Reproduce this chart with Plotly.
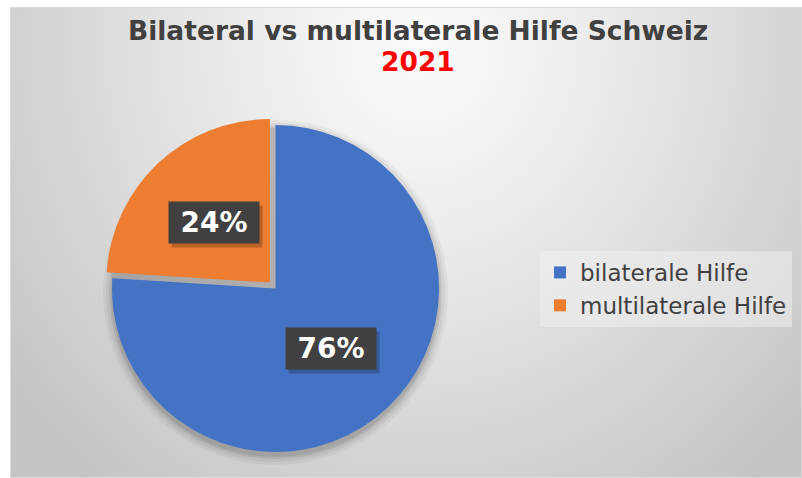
import base64
import numpy as np
import plotly.graph_objects as go

# ---- data ----
labels = ["bilaterale Hilfe", "multilaterale Hilfe"]
values = [76, 24]
colors = ["#4472C4", "#ED7D31"]
pulls = [0, 0.05]
title_line1 = "Bilateral vs multilaterale Hilfe Schweiz"
title_line2 = "2021"

W, H = 802, 478

# ---- geometry (pixels) ----
cx_px, cy_px, r_px = 275.5, 288.5, 163.5
half = r_px * (1 + max(pulls))
dom_x = [(cx_px - half) / W, (cx_px + half) / W]
dom_y = [(H - cy_px - half) / H, (H - cy_px + half) / H]

# ---- background gradient as SVG image ----
bx, by, bw, bh = 10, 7, 792, 471
svg = (
    f'<svg xmlns="http://www.w3.org/2000/svg" width="{bw}" height="{bh}">'
    '<defs><radialGradient id="g" gradientUnits="userSpaceOnUse" cx="410" cy="40" r="560" '
    'gradientTransform="translate(410 40) scale(0.93 1) translate(-410 -40)">'
    '<stop offset="0" stop-color="#fbfbfb"/><stop offset="0.35" stop-color="#ebebeb"/>'
    '<stop offset="1" stop-color="#c4c4c4"/></radialGradient></defs>'
    f'<rect width="{bw}" height="{bh}" fill="url(#g)"/>'
    f'<rect x="0.5" y="0.5" width="{bw-1}" height="{bh-1}" fill="none" stroke="#dcdcdc"/>'
    '</svg>'
)
src = "data:image/svg+xml;base64," + base64.b64encode(svg.encode()).decode()

fig = go.Figure()
fig.add_trace(go.Pie(
    labels=labels, values=values, sort=False, direction="clockwise", rotation=0,
    marker=dict(colors=colors, line=dict(width=0)), pull=pulls,
    textinfo="none", hoverinfo="label+percent", domain=dict(x=dom_x, y=dom_y),
))

# soft shadow under the pie
shapes = []
for dr, op in [(9, 0.04), (6, 0.05), (3, 0.07), (1, 0.08)]:
    x0, x1 = (cx_px - r_px - dr) / W, (cx_px + r_px + dr) / W
    y0 = 1 - (cy_px + 4 + r_px + dr) / H
    y1 = 1 - (cy_px + 4 - r_px - dr) / H
    shapes.append(dict(type="circle", xref="paper", yref="paper", x0=x0, x1=x1, y0=y0, y1=y1,
                       fillcolor=f"rgba(0,0,0,{op})", line=dict(width=0), layer="below"))

# data labels, placed along each slice bisector
annotations = []
vals = np.array(values, dtype=float)
fr = vals / vals.sum()
start = np.concatenate([[0], np.cumsum(fr)[:-1]])
for f, s, p in zip(fr, start, pulls):
    th = np.deg2rad((s + f / 2) * 360)
    d = (p + 0.5) * r_px
    lx = cx_px + d * np.sin(th)
    ly = cy_px - d * np.cos(th)
    txt = f"<b>{round(100 * f)}%</b>"
    common = dict(x=lx / W, y=1 - ly / H, xref="paper", yref="paper", showarrow=False,
                  width=90, height=41, borderpad=0, xanchor="center", yanchor="middle")
    annotations.append(dict(**common, text=" ", bgcolor="rgba(0,0,0,0.22)", xshift=3, yshift=-4))
    annotations.append(dict(**common, text=txt, bgcolor="#404040",
                            font=dict(family="DejaVu Sans", size=28, color="white")))

annotations.append(dict(x=418.5 / W, y=1 - 31 / H, xref="paper", yref="paper", showarrow=False,
                        text=f"<b>{title_line1}</b>", xanchor="center", yanchor="middle",
                        font=dict(family="DejaVu Sans", size=26.5, color="#404040")))
annotations.append(dict(x=418.5 / W, y=1 - 62 / H, xref="paper", yref="paper", showarrow=False,
                        text=f"<b>{title_line2}</b>", xanchor="center", yanchor="middle",
                        font=dict(family="DejaVu Sans", size=26.5, color="#FF0000")))

fig.update_layout(
    width=W, height=H, margin=dict(l=0, r=0, t=0, b=0),
    paper_bgcolor="white", plot_bgcolor="rgba(0,0,0,0)",
    images=[dict(source=src, xref="paper", yref="paper", x=bx / W, y=1 - by / H,
                 sizex=bw / W, sizey=bh / H, sizing="stretch", layer="below",
                 xanchor="left", yanchor="top")],
    shapes=shapes, annotations=annotations,
    showlegend=True,
    legend=dict(x=540 / W, xanchor="left", y=1 - 289 / H, yanchor="middle",
                bgcolor="rgba(242,242,242,0.5)", font=dict(family="DejaVu Sans", size=23, color="#404040"),
                itemclick=False),
)

fig.write_html("out.html", config={"displayModeBar": False},
               post_script="document.body.style.margin='0';")
